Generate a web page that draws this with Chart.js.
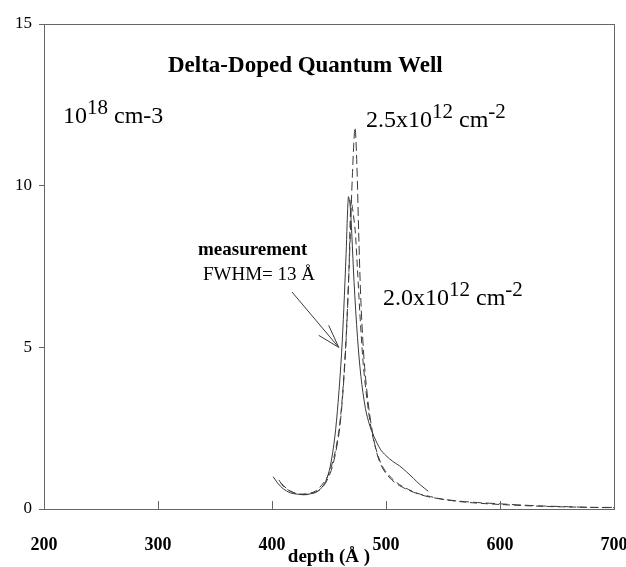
<!DOCTYPE html>
<html>
<head>
<meta charset="utf-8">
<script src="https://cdn.jsdelivr.net/npm/chart.js@4.4.1/dist/chart.umd.min.js"></script>
<style>
  html, body { margin: 0; padding: 0; background: #fff; }
  #wrap { width: 626px; height: 567px; position: relative; }
</style>
</head>
<body>
<div id="wrap"><canvas id="c"></canvas></div>
<script>
// depth in Angstrom, density in 10^18 cm-3
const measDepth = [401, 405, 410, 416, 422, 430, 437, 442, 447, 451, 455, 458, 461, 463, 465, 467, 468.5, 470, 472, 475, 478, 482, 486, 490, 495, 500, 506, 512, 518, 524, 530, 537];
const measValue = [1.0, 0.8, 0.62, 0.5, 0.46, 0.45, 0.5, 0.6, 0.85, 1.3, 2.2, 3.3, 4.8, 6.2, 7.9, 9.65, 9.4, 8.5, 7.0, 5.3, 4.1, 3.1, 2.55, 2.2, 1.85, 1.65, 1.47, 1.33, 1.15, 0.95, 0.75, 0.55];

const d25Depth = [406, 410, 416, 424, 432, 440, 446, 451, 455, 459, 462, 465, 468, 470.5, 472.8, 474.5, 476, 478, 481, 485, 489, 493, 498, 505, 512, 520, 528, 537, 550, 565, 580, 600, 620, 640, 660, 680, 700];
const d25Value = [0.9, 0.7, 0.55, 0.45, 0.45, 0.55, 0.75, 1.1, 1.6, 2.4, 3.5, 5.2, 7.8, 10.3, 11.8, 10.6, 8.6, 6.4, 4.5, 3.1, 2.2, 1.6, 1.2, 0.9, 0.72, 0.58, 0.47, 0.38, 0.3, 0.24, 0.2, 0.16, 0.12, 0.09, 0.07, 0.05, 0.05];

const d20Depth = [408, 414, 422, 430, 438, 445, 450, 455, 459, 462, 465, 467.5, 469.3, 471, 473, 475, 477, 480, 484, 488, 493, 498, 505, 512, 520, 528, 537, 550, 570, 600, 640, 680, 700];
const d20Value = [0.8, 0.6, 0.47, 0.47, 0.55, 0.8, 1.1, 1.7, 2.5, 3.6, 5.3, 7.4, 9.55, 9.2, 8.6, 7.4, 6.1, 4.5, 3.2, 2.3, 1.65, 1.25, 0.95, 0.75, 0.6, 0.48, 0.4, 0.3, 0.21, 0.14, 0.08, 0.05, 0.04];

const xTicks = [200, 300, 400, 500, 600, 700];
const yTicks = [0, 5, 10, 15];

const SERIF = '"Liberation Serif", "DejaVu Serif", serif';
const INK = '#3a3a3a';

const toPoints = (xs, ys) => xs.map((x, i) => ({ x, y: ys[i] }));

// frame, inward x ticks, labels and arrow
const decor = {
  id: 'decor',
  afterDraw(chart) {
    const { ctx, chartArea: a, scales } = chart;
    const sx = scales.x, sy = scales.y;
    ctx.save();
    ctx.strokeStyle = '#666';
    ctx.lineWidth = 1;
    ctx.strokeRect(a.left + 0.5, a.top + 0.5, a.right - a.left, a.bottom - a.top);

    ctx.beginPath();
    for (const t of xTicks.slice(1, -1)) {
      const px = Math.round(sx.getPixelForValue(t)) + 0.5;
      ctx.moveTo(px, a.bottom);
      ctx.lineTo(px, a.bottom - 8);
    }
    ctx.stroke();

    ctx.fillStyle = '#000';
    ctx.textBaseline = 'alphabetic';
    ctx.font = 'bold 23px ' + SERIF;
    ctx.fillText('Delta-Doped Quantum Well', 168, 72);

    const sup = (parts, x, y) => {
      for (const [txt, s] of parts) {
        ctx.font = (s ? '21px ' : '24px ') + SERIF;
        ctx.fillText(txt, x, s ? y - 9 : y);
        x += ctx.measureText(txt).width;
      }
    };
    sup([['10', 0], ['18', 1], [' cm-3', 0]], 63, 123);
    sup([['2.5x10', 0], ['12', 1], [' cm', 0], ['-2', 1]], 366, 127);
    sup([['2.0x10', 0], ['12', 1], [' cm', 0], ['-2', 1]], 383, 305);

    ctx.font = 'bold 19px ' + SERIF;
    ctx.fillText('measurement', 198, 255);
    ctx.font = '19px ' + SERIF;
    ctx.fillText('FWHM= 13 Å', 203, 280);

    // arrow to the measured curve
    const tx = sx.getPixelForValue(458.5), ty = sy.getPixelForValue(5.0);
    ctx.strokeStyle = INK;
    ctx.beginPath();
    ctx.moveTo(292, 292);
    ctx.lineTo(tx, ty);
    ctx.moveTo(tx - 20, ty - 12);
    ctx.lineTo(tx, ty);
    ctx.lineTo(tx - 10, ty - 22);
    ctx.stroke();
    ctx.restore();
  }
};

new Chart(document.getElementById('c'), {
  type: 'line',
  data: {
    datasets: [
      { label: 'measurement', data: toPoints(measDepth, measValue), borderColor: INK, borderWidth: 1, pointRadius: 0, tension: 0.3 },
      { label: '2.5x10^12', data: toPoints(d25Depth, d25Value), borderColor: INK, borderWidth: 1, borderDash: [9, 4], pointRadius: 0, tension: 0.3 },
      { label: '2.0x10^12', data: toPoints(d20Depth, d20Value), borderColor: INK, borderWidth: 1, borderDash: [7, 4], pointRadius: 0, tension: 0.3 },
    ],
  },
  options: {
    animation: false,
    responsive: true,
    maintainAspectRatio: false,
    layout: { padding: { top: 24, right: 12, left: 0, bottom: 0 } },
    plugins: { legend: { display: false }, tooltip: { enabled: false } },
    scales: {
      x: {
        type: 'linear',
        min: 200,
        max: 700,
        afterBuildTicks: (s) => { s.ticks = xTicks.map((v) => ({ value: v })); },
        afterFit: (s) => { s.height = 58; s.paddingLeft = 0; s.paddingRight = 0; },
        grid: { display: false, drawTicks: false },
        border: { display: true, color: '#666' },
        ticks: { color: '#000', padding: 26, maxRotation: 0, font: { family: SERIF, size: 18, weight: 'bold' } },
        title: { display: true, text: 'depth (Å )', color: '#000', padding: { top: 0, bottom: 0 }, font: { family: SERIF, size: 19, weight: 'bold', lineHeight: 1 } },
      },
      y: {
        min: 0,
        max: 15,
        afterBuildTicks: (s) => { s.ticks = yTicks.map((v) => ({ value: v })); },
        afterFit: (s) => { s.width = 44; },
        grid: { drawOnChartArea: false, tickLength: 5, color: '#666' },
        border: { display: true, color: '#666' },
        ticks: { color: '#000', padding: 7, font: { family: SERIF, size: 17 } },
      },
    },
  },
  plugins: [decor],
});
</script>
</body>
</html>
